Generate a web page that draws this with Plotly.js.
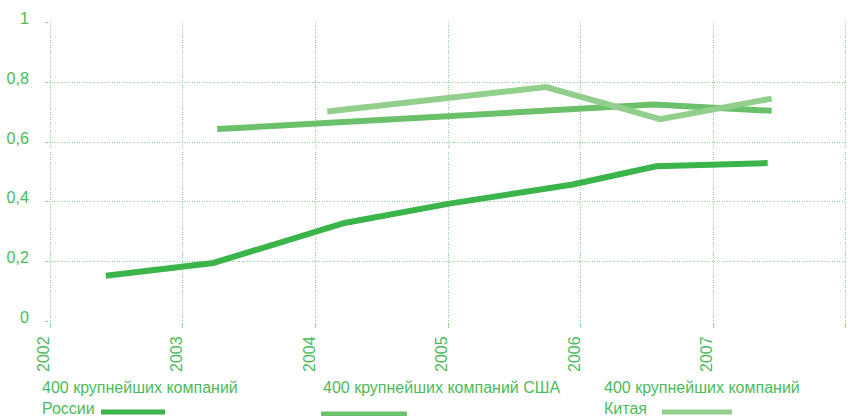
<!DOCTYPE html>
<html>
<head>
<meta charset="utf-8">
<script src="https://cdn.plot.ly/plotly-3.0.1.min.js"></script>
<style>html,body{margin:0;padding:0;background:#fff;}#chart{width:848px;height:416px;}</style>
</head>
<body>
<div id="chart"></div>
<script>
// Data
const russiaX = [2002.42, 2003.23, 2004.22, 2005.01, 2005.94, 2006.57, 2007.41];
const russiaY = [0.152, 0.195, 0.329, 0.394, 0.458, 0.519, 0.530];
const usaX = [2003.26, 2006.55, 2007.44];
const usaY = [0.644, 0.726, 0.705];
const chinaX = [2004.09, 2005.74, 2006.60, 2007.44];
const chinaY = [0.703, 0.785, 0.677, 0.746];
const xTicks = [2002, 2003, 2004, 2005, 2006, 2007, 2008];
const yTicks = [0, 0.2, 0.4, 0.6, 0.8, 1];
const seriesNames = ['400 крупнейших компаний<br>России', '400 крупнейших компаний США', '400 крупнейших компаний<br>Китая'];
const seriesColors = ['#3bb54a', '#6bc06a', '#93cf8c'];

const textColor = '#4cba5c';
const gridColor = '#8fd498';
const font = {family: 'Liberation Sans, Arial, sans-serif', size: 16, color: textColor};

const traces = [
  {x: russiaX, y: russiaY, mode: 'lines', line: {color: seriesColors[0], width: 6}, name: seriesNames[0]},
  {x: usaX, y: usaY, mode: 'lines', line: {color: seriesColors[1], width: 6}, name: seriesNames[1]},
  {x: chinaX, y: chinaY, mode: 'lines', line: {color: seriesColors[2], width: 6}, name: seriesNames[2]}
].map(t => Object.assign(t, {showlegend: false, hoverinfo: 'skip', cliponaxis: false}));

// plot area geometry (px)
const L = 49, R = 848 - 1, T = 22, B = 322;
const W = R - L, H = B - T;

// legend built from series names / colours
const legendX = [40, 321, 602];
const swatch = [[101, 165, 412], [321, 407, 414], [662, 732, 412]];
const annotations = seriesNames.map((n, i) => ({
  xref: 'paper', yref: 'paper', x: (legendX[i] - L) / W, y: (B - 377) / H,
  xanchor: 'left', yanchor: 'top', align: 'left', showarrow: false,
  text: n, font: font
}));
const shapes = seriesColors.map((c, i) => ({
  type: 'line', xref: 'paper', yref: 'paper',
  x0: (swatch[i][0] - L) / W, x1: (swatch[i][1] - L) / W,
  y0: (B - swatch[i][2]) / H, y1: (B - swatch[i][2]) / H,
  line: {color: c, width: 5}
}));

const layout = {
  width: 848, height: 416,
  margin: {l: L, r: 848 - R, t: T, b: 416 - B, pad: 0},
  paper_bgcolor: '#fff', plot_bgcolor: '#fff',
  separators: ', ',
  font: font,
  showlegend: false,
  xaxis: {
    range: [2001.992, 2008.008], tickvals: xTicks, ticktext: xTicks.map(String),
    tickangle: -90, showgrid: true, gridcolor: gridColor, griddash: '1px,1.5px', gridwidth: 1,
    zeroline: false, showline: false, ticks: 'outside', ticklen: 5, tickcolor: gridColor,
    ticklabelshift: -6, ticklabelstandoff: 2, tickfont: font, fixedrange: true
  },
  yaxis: {
    range: [-0.003, 1.003], tickvals: yTicks, showgrid: true, gridcolor: gridColor, griddash: '1px,1.5px', gridwidth: 1,
    zeroline: false, showline: false, ticks: 'outside', ticklen: 3, tickcolor: gridColor,
    ticklabelshift: -4, ticklabelstandoff: 13, tickfont: font, fixedrange: true
  },
  annotations: annotations,
  shapes: shapes
};

Plotly.newPlot('chart', traces, layout, {displayModeBar: false, staticPlot: true});
</script>
</body>
</html>
